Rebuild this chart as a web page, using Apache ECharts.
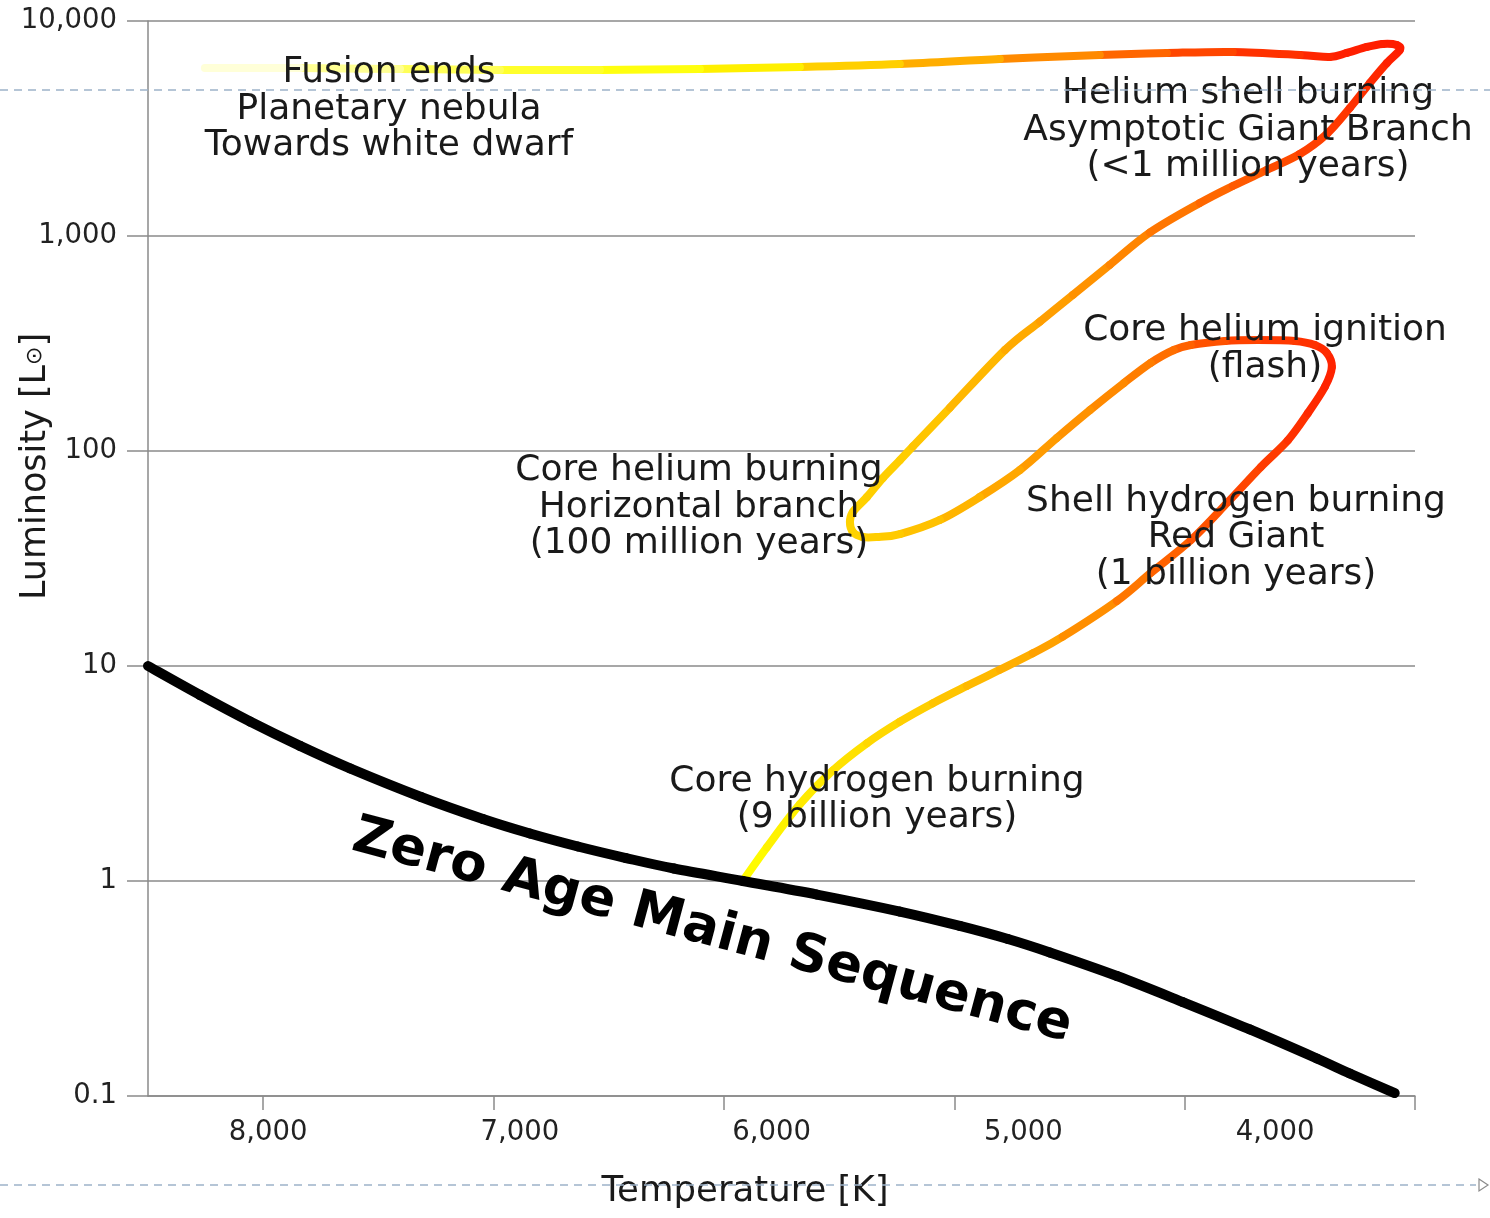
<!DOCTYPE html>
<html>
<head>
<meta charset="utf-8">
<script src="https://cdn.jsdelivr.net/npm/echarts@6/dist/echarts.min.js"></script>
<style>
html,body{margin:0;padding:0;background:#fff;}
#chart{width:1490px;height:1218px;}
</style>
</head>
<body>
<div id="chart"></div>
<script>
// ---- data ----
const xTickValues = [3000, 4000, 5000, 6000, 7000, 8000];
const xLabelValues = [4000, 5000, 6000, 7000, 8000];
const yTickLabels = {'0.1': '0.1', '1': '1', '10': '10', '100': '100', '1000': '1,000', '10000': '10,000'};

// Zero age main sequence (temperature K, luminosity Lsun)
const msT = [8500, 8274, 8057, 7840, 7623, 7315, 7046, 6842, 6634, 6425, 6217, 5918, 5596, 5236, 4976, 4767, 4585, 4294, 4008, 3717, 3426, 3283, 3088];
const msL = [10, 7.33, 5.52, 4.25, 3.34, 2.459, 1.943, 1.663, 1.447, 1.279, 1.143, 1.0, 0.865, 0.721, 0.618, 0.537, 0.465, 0.3614, 0.2736, 0.2039, 0.1494, 0.1272, 0.1032];

// Evolutionary track of a Sun-like star
const trackT = [5918, 5813, 5670, 5527, 5379, 5236, 5093, 4945, 4802, 4659,
  4529, 4294, 4147, 3973, 3812, 3669, 3552, 3465, 3391, 3361,
  3383, 3435, 3522, 3682, 3825, 3973, 4047, 4147, 4264, 4411,
  4555, 4715, 4889, 5062, 5236, 5336, 5397, 5440, 5453, 5440,
  5379, 5310, 5236, 5180, 5019, 4780, 4628, 4485, 4325, 4151,
  3934, 3791, 3643, 3500, 3383, 3283, 3196, 3122, 3066, 3079,
  3140, 3209, 3296, 3370, 3500, 3791, 4077, 4368, 4802, 5236,
  5670, 6104, 6538, 6972, 7406, 7840, 8253];
const trackL = [1.00, 1.439, 2.279, 3.269, 4.374, 5.508, 6.714, 8.08, 9.61, 11.47,
  13.69, 20.06, 27.1, 38.5, 57.9, 84.3, 112, 150, 199, 246,
  286, 311, 325, 328, 325, 311, 295, 257, 207, 155,
  115, 81.6, 61.1, 47.8, 41.1, 39.8, 39.8, 42.0, 46.7, 52.1,
  61.1, 74.9, 90.6, 104.9, 159.0, 295, 399.9, 532.2, 733.9, 1038,
  1424, 1708, 2028, 2406, 2982, 3938, 5150, 6380, 7330, 7730,
  7820, 7570, 7100, 6800, 6950, 7180, 7100, 6950, 6660, 6310,
  6110, 5980, 5920, 5920, 5980, 6040, 6040];

// ---- style ----
const trackColorStops = [[0,'#ffff00'],[5,'#ffd400'],[8,'#ffb400'],[10,'#ff9a00'],[12,'#ff6a00'],[14,'#ff4a00'],[17,'#ff2c00'],[19,'#ff2000'],
  [23,'#ff3c00'],[26,'#ff6800'],[28,'#ff8400'],[31,'#ffa000'],[34,'#ffc800'],[37,'#ffd400'],[43,'#ffcc00'],[45,'#ffb000'],
  [48,'#ff8c00'],[50,'#ff6e00'],[53,'#ff4400'],[58,'#ff1c00'],[63,'#ff2000'],[65,'#ff3800'],[66,'#ff5400'],[68,'#ff9c00'],
  [70,'#ffe000'],[71,'#ffff00'],[73,'#ffff3a'],[75,'#ffffb0'],[76,'#ffffff']];
const FONT = '"DejaVu Sans", sans-serif';
const GRID_COLOR = '#8a8a8a';
const TEXT_COLOR = '#1a1a1a';

function hexToRgb(h){ return [parseInt(h.substr(1,2),16), parseInt(h.substr(3,2),16), parseInt(h.substr(5,2),16)]; }
function colorAt(t){
  for (let k = 0; k < trackColorStops.length - 1; k++) {
    const a = trackColorStops[k], b = trackColorStops[k+1];
    if (t >= a[0] && t <= b[0]) {
      const f = (t - a[0]) / (b[0] - a[0]);
      const ca = hexToRgb(a[1]), cb = hexToRgb(b[1]);
      const c = ca.map((v, j) => Math.round(v + (cb[j] - v) * f));
      return 'rgb(' + c.join(',') + ')';
    }
  }
  return trackColorStops[trackColorStops.length-1][1];
}
function commas(v){ return String(v).replace(/\B(?=(\d{3})+(?!\d))/g, ','); }

const chart = echarts.init(document.getElementById('chart'), null, {renderer: 'canvas'});

function annot(text, x, y){
  return {type:'text', x:x, y:y, z:100,
    style:{text:text, fill:TEXT_COLOR, fontFamily:'DejaVu Sans', fontSize:36, lineHeight:36.5, align:'center', verticalAlign:'middle'}};
}

// Smooth (Catmull-Rom) drawing of one segment between data points i and i+1
function segment(api, T, L, i, width, color){
  const n = T.length;
  const p0 = api.coord([T[Math.max(i-1,0)], L[Math.max(i-1,0)]]);
  const p1 = api.coord([T[i], L[i]]);
  const p2 = api.coord([T[i+1], L[i+1]]);
  const p3 = api.coord([T[Math.min(i+2,n-1)], L[Math.min(i+2,n-1)]]);
  return {type: 'bezierCurve', silent: true,
    shape: {x1: p1[0], y1: p1[1], x2: p2[0], y2: p2[1],
      cpx1: p1[0] + (p2[0]-p0[0])/6, cpy1: p1[1] + (p2[1]-p0[1])/6,
      cpx2: p2[0] - (p3[0]-p1[0])/6, cpy2: p2[1] - (p3[1]-p1[1])/6},
    style: {stroke: color, fill: 'none', lineWidth: width, lineCap: 'round'}};
}

const option = {
  backgroundColor: '#fff',
  animation: false,
  grid: {left: 148, right: 75, top: 21, bottom: 122, containLabel: false, outerBoundsMode: 'none'},
  xAxis: [{
    type: 'value', min: 3000, max: 8500, inverse: true, position: 'bottom',
    name: 'Temperature [K]', nameLocation: 'middle', nameGap: 78, nameMoveOverlap: false,
    nameTextStyle: {fontFamily: FONT, fontSize: 35.5, color: TEXT_COLOR, padding: [0, 73, 0, 0]},
    axisLine: {show: true, lineStyle: {color: GRID_COLOR, width: 1.5}},
    axisTick: {show: true, length: 14, customValues: xTickValues, lineStyle: {color: GRID_COLOR, width: 1.5}},
    axisLabel: {show: false},
    splitLine: {show: false}
  }, {
    type: 'value', min: 3444, max: 8477, inverse: true, position: 'bottom',
    axisLine: {show: false}, axisTick: {show: false}, splitLine: {show: false},
    axisLabel: {show: true, customValues: xLabelValues, margin: 23, fontFamily: FONT, fontSize: 27.5, color: '#222',
      formatter: v => commas(v)}
  }],
  yAxis: {
    type: 'log', logBase: 10, min: 0.1, max: 10000,
    name: 'Luminosity [L{sun|⊙}]', nameLocation: 'middle', nameRotate: 90, nameGap: 95, nameMoveOverlap: false,
    nameTextStyle: {fontFamily: FONT, fontSize: 35, color: TEXT_COLOR, padding: [0, 0, 0, 184],
      rich: {sun: {fontFamily: FONT, fontSize: 22, color: TEXT_COLOR}}},
    axisLine: {show: true, lineStyle: {color: GRID_COLOR, width: 1.5}},
    axisTick: {show: true, length: 21, lineStyle: {color: GRID_COLOR, width: 1.5}},
    minorTick: {show: false},
    splitLine: {show: true, lineStyle: {color: GRID_COLOR, width: 1.5}},
    axisLabel: {margin: 31, fontFamily: FONT, fontSize: 27.5, color: '#222',
      formatter: v => { const key = String(+(+v).toPrecision(6)); return yTickLabels[key] !== undefined ? yTickLabels[key] : ''; }}
  },
  series: [{
    type: 'custom',
    name: 'track',
    z: 2,
    data: trackT.map((t, i) => [t, trackL[i]]),
    renderItem: function(params, api){
      const i = params.dataIndex;
      if (i >= trackT.length - 1) return null;
      return segment(api, trackT, trackL, i, 8, colorAt(i + 0.5));
    }
  }, {
    type: 'custom',
    name: 'ZAMS',
    z: 3,
    data: msT.map((t, i) => [t, msL[i]]),
    renderItem: function(params, api){
      const i = params.dataIndex;
      if (i >= msT.length - 1) return null;
      return segment(api, msT, msL, i, 10, '#000');
    }
  }],
  graphic: [
    annot('Fusion ends\nPlanetary nebula\nTowards white dwarf', 389, 109.5),
    annot('Helium shell burning\nAsymptotic Giant Branch\n(<1 million years)', 1248, 130.5),
    annot('Core helium ignition\n(flash)', 1265, 349),
    annot('Core helium burning\nHorizontal branch\n(100 million years)', 699, 507.5),
    annot('Shell hydrogen burning\nRed Giant\n(1 billion years)', 1236, 538),
    annot('Core hydrogen burning\n(9 billion years)', 877, 799.5),
    {type:'text', x:712, y:932, rotation: -15 * Math.PI / 180, z:100,
      style:{text:'Zero Age Main Sequence', fill:'#000', fontFamily:'DejaVu Sans', fontWeight:'bold', fontSize:53, align:'center', verticalAlign:'middle'}},
    {type:'line', z:200, shape:{x1:0, y1:90, x2:1490, y2:90}, style:{stroke:'#9db3c9', lineWidth:1.5, lineDash:[8,6]}},
    {type:'line', z:200, shape:{x1:0, y1:1185, x2:1476, y2:1185}, style:{stroke:'#9db3c9', lineWidth:1.5, lineDash:[8,6]}},
    {type:'polygon', z:200, shape:{points:[[1479,1179],[1488,1185],[1479,1191]]}, style:{fill:'none', stroke:'#8a8a8a', lineWidth:1.2}}
  ]
};
chart.setOption(option);
</script>
</body>
</html>
